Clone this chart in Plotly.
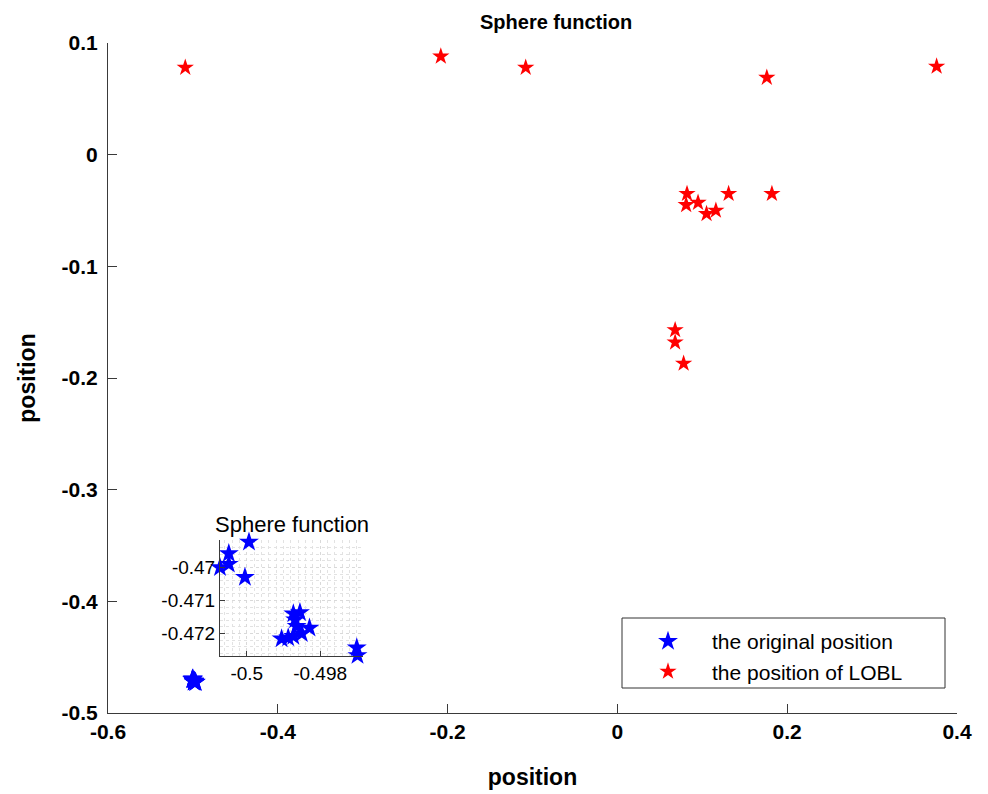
import plotly.graph_objects as go

# ---- data ----
red_x = [-0.509, -0.208, -0.108, 0.176, 0.376,
         0.082, 0.081, 0.095, 0.105, 0.116, 0.131, 0.182,
         0.068, 0.068, 0.078]
red_y = [0.078, 0.088, 0.078, 0.069, 0.079,
         -0.035, -0.045, -0.043, -0.053, -0.050, -0.035, -0.035,
         -0.157, -0.168, -0.187]

blue_x = [-0.49994, -0.50049, -0.50049, -0.50073, -0.50005,
          -0.49873, -0.49855, -0.49868, -0.49864, -0.49829, -0.49850,
          -0.49873, -0.49905, -0.49887, -0.49677, -0.49700, -0.49698]
blue_y = [-0.46923, -0.46958, -0.46990, -0.47000, -0.47030,
          -0.47140, -0.47136, -0.47158, -0.47178, -0.47183, -0.47200,
          -0.47208, -0.47216, -0.47213, -0.47226, -0.47243, -0.47266]

main_xticks = [-0.6, -0.4, -0.2, 0, 0.2, 0.4]
main_xtext = ["-0.6", "-0.4", "-0.2", "0", "0.2", "0.4"]
main_yticks = [0.1, 0, -0.1, -0.2, -0.3, -0.4, -0.5]
main_ytext = ["0.1", "0", "-0.1", "-0.2", "-0.3", "-0.4", "-0.5"]

inset_xticks = [-0.5, -0.498]
inset_xtext = ["-0.5", "-0.498"]
inset_yticks = [-0.47, -0.471, -0.472]
inset_ytext = ["-0.47", "-0.471", "-0.472"]

title_text = "Sphere function"
legend_names = ["the original position", "the position of LOBL"]

FONT = "Liberation Sans, Arial, sans-serif"
AXC = "#3a3a3a"

fig = go.Figure()
fig.add_trace(go.Scatter(x=blue_x, y=blue_y, mode="markers", name=legend_names[0],
                         marker=dict(symbol="star", size=15, color="#0000ff",
                                     line=dict(width=0)),
                         xaxis="x", yaxis="y"))
fig.add_trace(go.Scatter(x=red_x, y=red_y, mode="markers", name=legend_names[1],
                         marker=dict(symbol="star", size=13, color="#ff0000",
                                     line=dict(width=0)),
                         xaxis="x", yaxis="y"))
fig.add_trace(go.Scatter(x=blue_x, y=blue_y, mode="markers", showlegend=False,
                         cliponaxis=False,
                         marker=dict(symbol="star", size=15, color="#0000ff",
                                     line=dict(width=0)),
                         xaxis="x2", yaxis="y2"))

L, R, T, B = 108, 31, 43, 81
W, H = 988, 794
pw, ph = W - L - R, H - T - B

def px2x(p):
    return (p - L) / pw

def py2y(p):
    return (H - B - p) / ph

fig.update_layout(
    width=W, height=H,
    margin=dict(l=L, r=R, t=T, b=B, autoexpand=False),
    paper_bgcolor="white", plot_bgcolor="white",
    font=dict(family=FONT, color="black"),
    showlegend=True,
    legend=dict(x=px2x(624), y=py2y(621), xanchor="left", yanchor="top",
                bgcolor="rgba(0,0,0,0)", borderwidth=0,
                font=dict(size=21, family=FONT, color="black"),
                itemwidth=78, tracegroupgap=0),
    xaxis=dict(range=[-0.6, 0.4], tickvals=main_xticks, ticktext=main_xtext,
               ticks="inside", ticklen=9, tickcolor=AXC, showline=True,
               linecolor=AXC, linewidth=1, showgrid=False, zeroline=False,
               mirror=False, automargin=False,
               tickfont=dict(size=21, family=FONT, weight="bold"),
               title=dict(text="position", font=dict(size=23, weight="bold"),
                          standoff=26)),
    yaxis=dict(range=[-0.5, 0.1], tickvals=main_yticks, ticktext=main_ytext,
               ticks="inside", ticklen=9, tickcolor=AXC, showline=True,
               linecolor=AXC, linewidth=1, showgrid=False, zeroline=False,
               mirror=False, ticklabelstandoff=5, automargin=False,
               tickfont=dict(size=21, family=FONT, weight="bold"),
               title=dict(text="position", font=dict(size=23, weight="bold"),
                          standoff=19)),
    xaxis2=dict(domain=[px2x(220), px2x(363)], anchor="y2",
                range=[-0.50073, -0.49683], tickvals=inset_xticks, ticktext=inset_xtext,
                ticks="inside", ticklen=5, tickcolor=AXC, showline=True,
                linecolor=AXC, linewidth=1, zeroline=False, automargin=False,
                showgrid=True, gridcolor="#d9d9d9", griddash="dot", gridwidth=1,
                minor=dict(dtick=0.0002, showgrid=True, gridcolor="#e2e2e2",
                           griddash="dot", ticks=""),
                tickfont=dict(size=19, family=FONT)),
    yaxis2=dict(domain=[py2y(655.7), py2y(540)], anchor="x2",
                range=[-0.47267, -0.46917], tickvals=inset_yticks, ticktext=inset_ytext,
                ticks="inside", ticklen=5, tickcolor=AXC, showline=True,
                linecolor=AXC, linewidth=1, zeroline=False, automargin=False,
                showgrid=True, gridcolor="#d9d9d9", griddash="dot", gridwidth=1,
                minor=dict(dtick=0.0002, showgrid=True, gridcolor="#e2e2e2",
                           griddash="dot", ticks=""),
                tickfont=dict(size=19, family=FONT)),
    shapes=[dict(type="rect", xref="paper", yref="paper",
                 x0=px2x(622), x1=px2x(945), y0=py2y(688), y1=py2y(618),
                 line=dict(color="#333333", width=1), fillcolor="rgba(0,0,0,0)")],
    annotations=[
        dict(text=title_text, xref="paper", yref="paper", x=px2x(556), y=py2y(22),
             xanchor="center", yanchor="middle", showarrow=False,
             font=dict(size=20, family=FONT, weight="bold")),
        dict(text=title_text, xref="paper", yref="paper", x=px2x(292), y=py2y(524),
             xanchor="center", yanchor="middle", showarrow=False,
             font=dict(size=22, family=FONT)),
    ],
)

fig.write_html("out.html")
